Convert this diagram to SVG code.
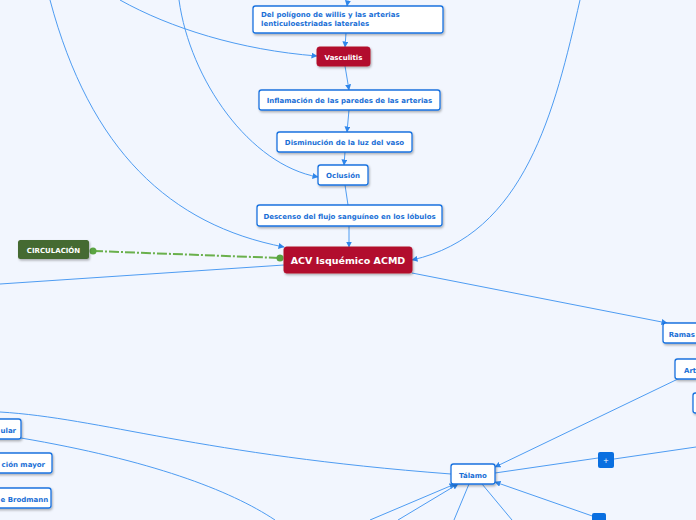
<svg xmlns="http://www.w3.org/2000/svg" width="696" height="520" viewBox="0 0 696 520">
<defs>
<marker id="arr" viewBox="0 0 6 6" refX="5.5" refY="3" markerWidth="6" markerHeight="6" orient="auto" markerUnits="userSpaceOnUse"><path d="M0,0 L6,3 L0,6 z" fill="#2f86ea"/></marker>
<filter id="sh" x="-10%" y="-20%" width="130%" height="160%"><feDropShadow dx="1" dy="1.5" stdDeviation="0.8" flood-color="#000" flood-opacity="0.3"/></filter>
<style>
.c{fill:none;stroke:#4e9cf2;stroke-width:1}
.b{fill:#fff;stroke:#1a73e0;stroke-width:1.3;filter:url(#sh)}
.r{fill:#b2102d;stroke:#b2102d;stroke-width:1;filter:url(#sh)}
.t{font-family:"DejaVu Sans",Verdana,sans-serif;font-weight:bold;font-size:7px;fill:#1a6fd6}
.w{font-family:"DejaVu Sans",Verdana,sans-serif;font-weight:bold;fill:#fff}
</style>
</defs>
<rect width="696" height="520" fill="#f2f6fe"/>
<g id="connectors">
<path class="c" d="M348,0 L347,6" marker-end="url(#arr)"/>
<path class="c" d="M346,33 L345,47" marker-end="url(#arr)"/>
<path class="c" d="M345,66 L349,90" marker-end="url(#arr)"/>
<path class="c" d="M349,110 L347,132" marker-end="url(#arr)"/>
<path class="c" d="M345,152 L344,165" marker-end="url(#arr)"/>
<path class="c" d="M345,185 L348,205"/>
<path class="c" d="M349,226 L349,247" marker-end="url(#arr)"/>
<path class="c" d="M120,0 C170,28 240,50 317,56" marker-end="url(#arr)"/>
<path class="c" d="M179,0 C190,80 250,165 318,177" marker-end="url(#arr)"/>
<path class="c" d="M50,0 C90,150 170,225 284,247" marker-end="url(#arr)"/>
<path class="c" d="M580,0 C555,110 525,235 412,260" marker-end="url(#arr)"/>
<path class="c" d="M0,284 L284,265"/>
<path class="c" d="M412,273 L667,323" marker-end="url(#arr)"/>
<path class="c" d="M680,378 L495,467" marker-end="url(#arr)"/>
<path class="c" d="M696,447 L614,459"/>
<path class="c" d="M598,458 L495,473"/>
<path class="c" d="M598,518 L495,482" marker-end="url(#arr)"/>
<path class="c" d="M0,412 C100,418 200,455 451,474"/>
<path class="c" d="M21,438 C150,460 230,490 275,520"/>
<path class="c" d="M370,520 L455,484" marker-end="url(#arr)"/>
<path class="c" d="M398,520 L458,484" marker-end="url(#arr)"/>
<path class="c" d="M469,484 L454,520"/>
<path class="c" d="M482,484 L512,520"/>
<path d="M93,251 L280,258" fill="none" stroke="#6ab04c" stroke-width="2" stroke-dasharray="10,2,2,2"/>
<circle cx="93" cy="251" r="3.5" fill="#5aa442"/>
<circle cx="280" cy="258" r="3.5" fill="#5aa442"/>
</g>
<g id="n-poligono"><rect class="b" x="253" y="6" width="190" height="27" rx="2.5"/><text class="t" x="261" y="17">Del polígono  de willis y las arterias</text><text class="t" x="261" y="26">lenticuloestriadas laterales</text></g>
<g id="n-vasculitis"><rect class="r" x="317" y="47" width="53" height="19" rx="2.5"/><text class="w" x="343.5" y="59.5" font-size="7" text-anchor="middle">Vasculitis</text></g>
<g id="n-inflamacion"><rect class="b" x="259" y="90" width="181" height="20" rx="2.5"/><text class="t" x="349.5" y="103" text-anchor="middle">Inflamación de las paredes de las arterias</text></g>
<g id="n-disminucion"><rect class="b" x="277" y="132" width="135" height="20" rx="2.5"/><text class="t" x="344.5" y="145" text-anchor="middle">Disminución de la luz del vaso</text></g>
<g id="n-oclusion"><rect class="b" x="318" y="165" width="50" height="20" rx="2.5"/><text class="t" x="343" y="178" text-anchor="middle">Oclusión</text></g>
<g id="n-descenso"><rect class="b" x="257" y="205" width="185" height="21" rx="2.5"/><text class="t" x="349.5" y="219" text-anchor="middle">Descenso del flujo sanguíneo en los lóbulos</text></g>
<g id="n-acv"><rect class="r" x="284" y="247" width="128" height="26" rx="2.5"/><text class="w" x="348" y="264" font-size="9.5" text-anchor="middle">ACV Isquémico ACMD</text></g>
<g id="n-circulacion"><rect x="18" y="240" width="71" height="19" rx="2.5" fill="#456b30" filter="url(#sh)"/><text class="w" x="53.5" y="252.5" font-size="7" text-anchor="middle">CIRCULACIÓN</text></g>
<g id="n-ramas"><rect class="b" x="663" y="323" width="40" height="20" rx="2.5"/><text class="t" x="695" y="337" text-anchor="end">Ramas</text></g>
<g id="n-art"><rect class="b" x="675" y="359" width="30" height="20" rx="2.5"/><text class="t" x="684" y="373">Art</text></g>
<g id="n-right3"><rect class="b" x="693" y="393" width="20" height="20" rx="2.5"/></g>
<g id="n-ular"><rect class="b" x="-30" y="419" width="51" height="20" rx="2.5"/><text class="t" x="0.5" y="433">ular</text></g>
<g id="n-mayor"><rect class="b" x="-30" y="453" width="82" height="20" rx="2.5"/><text class="t" x="45" y="467" text-anchor="end">ción mayor</text></g>
<g id="n-brodmann"><rect class="b" x="-30" y="488" width="81" height="20" rx="2.5"/><text class="t" x="0.5" y="502">e Brodmann</text></g>
<g id="n-talamo"><rect class="b" x="451" y="464" width="44" height="20" rx="2.5"/><text class="t" x="473" y="477.5" text-anchor="middle">Tálamo</text></g>
<g id="n-plus1"><rect x="598" y="452" width="16" height="16" rx="2" fill="#0a6fe0"/><text x="606" y="462.5" font-family="DejaVu Sans,sans-serif" font-size="7" fill="#fff" text-anchor="middle">+</text></g>
<g id="n-plus2"><rect x="592" y="513" width="14" height="14" rx="2" fill="#0a6fe0"/></g>
</svg>
